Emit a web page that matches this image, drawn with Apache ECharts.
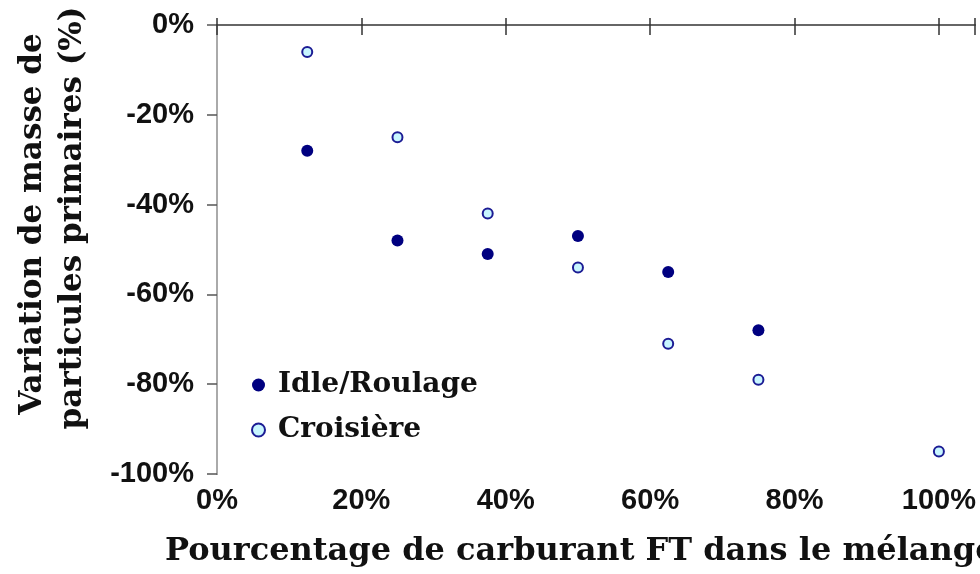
<!DOCTYPE html>
<html>
<head>
<meta charset="utf-8">
<script src="https://cdn.jsdelivr.net/npm/echarts@6/dist/echarts.min.js"></script>
<style>
  html, body { margin: 0; padding: 0; background: #fff; }
  #chart { width: 980px; height: 574px; }
</style>
</head>
<body>
<div id="chart"></div>
<script>
// FT fuel share in the blend (%)
const blendShare = [12.5, 25, 37.5, 50, 62.5, 75, 100];
// Change in primary particle mass (%), per engine regime
const idleValues = [-28, -48, -51, -47, -55, -68];
const cruiseValues = [-6, -25, -42, -54, -71, -79, -95];
const seriesNames = ['Idle/Roulage', 'Croisière'];
const xTicks = [0, 20, 40, 60, 80, 100];
const yTicks = [0, -20, -40, -60, -80, -100];

const serif = '"DejaVu Serif", serif';
const sans = 'Arial, "Liberation Sans", sans-serif';

const chart = echarts.init(document.getElementById('chart'), null, { renderer: 'canvas' });

const pct = v => v + '%';

chart.setOption({
  animation: false,
  backgroundColor: '#ffffff',
  grid: { left: 217, right: 5, top: 25, bottom: 100, containLabel: false },
  legend: {
    orient: 'vertical',
    left: 251,
    top: 371,
    padding: 0,
    itemWidth: 13,
    itemHeight: 13,
    itemGap: 17,
    icon: 'circle',
    textStyle: { fontFamily: serif, fontWeight: 'bold', fontSize: 28, color: '#111', padding: [0, 0, 0, 8] },
    data: seriesNames
  },
  xAxis: [{
    type: 'value',
    min: 0, max: 105, interval: 20,
    axisLine: { show: true, lineStyle: { color: '#aaaaaa', width: 2 } },
    axisTick: { show: true, inside: true, length: 7, lineStyle: { color: '#333', width: 1.5 } },
    axisLabel: {
      margin: 12,
      fontFamily: sans, fontWeight: 'bold', fontSize: 29, color: '#111',
      formatter: v => (xTicks.indexOf(v) >= 0 ? pct(v) : '')
    },
    splitLine: { show: false }
  }, {
    type: 'value', position: 'top',
    min: 0, max: 105, interval: 20,
    axisLine: { show: true, lineStyle: { color: '#666', width: 2 } },
    axisTick: { show: true, inside: true, length: 10, lineStyle: { color: '#333', width: 1.5 } },
    axisLabel: { show: false },
    splitLine: { show: false }
  }],
  yAxis: [{
    type: 'value',
    min: -100, max: 0, interval: 20,
    axisLine: { show: true, lineStyle: { color: '#666', width: 2 } },
    axisTick: { show: true, inside: false, length: 10, lineStyle: { color: '#555', width: 1.5 } },
    axisLabel: {
      margin: 23,
      fontFamily: sans, fontWeight: 'bold', fontSize: 29, color: '#111',
      formatter: v => (yTicks.indexOf(v) >= 0 ? pct(v) : '')
    },
    splitLine: { show: false }
  }, {
    type: 'value', position: 'right',
    min: -100, max: 0, interval: 20,
    axisLine: { show: true, lineStyle: { color: '#aaaaaa', width: 2 } },
    axisTick: { show: false },
    axisLabel: { show: false },
    splitLine: { show: false }
  }],
  series: [{
    name: seriesNames[0],
    type: 'scatter',
    symbol: 'circle',
    symbolSize: 12,
    itemStyle: { color: '#000080', opacity: 1 },
    data: idleValues.map((v, i) => [blendShare[i], v])
  }, {
    name: seriesNames[1],
    type: 'scatter',
    symbol: 'circle',
    symbolSize: 10,
    itemStyle: { color: '#c8f6ff', borderColor: '#1c1c94', borderWidth: 2, opacity: 1 },
    data: cruiseValues.map((v, i) => [blendShare[i], v])
  }],
  graphic: [{
    type: 'text',
    left: 165, top: 536,
    style: {
      text: 'Pourcentage de carburant FT dans le mélange',
      font: 'bold 32px ' + serif,
      fill: '#111'
    }
  }, {
    type: 'text',
    x: 33, y: 224,
    rotation: Math.PI / 2,
    style: {
      text: 'Variation de masse de',
      font: 'bold 31px ' + serif,
      fill: '#111',
      align: 'center',
      verticalAlign: 'middle'
    }
  }, {
    type: 'text',
    x: 73, y: 218,
    rotation: Math.PI / 2,
    style: {
      text: 'particules primaires (%)',
      font: 'bold 31px ' + serif,
      fill: '#111',
      align: 'center',
      verticalAlign: 'middle'
    }
  }]
});
</script>
</body>
</html>
